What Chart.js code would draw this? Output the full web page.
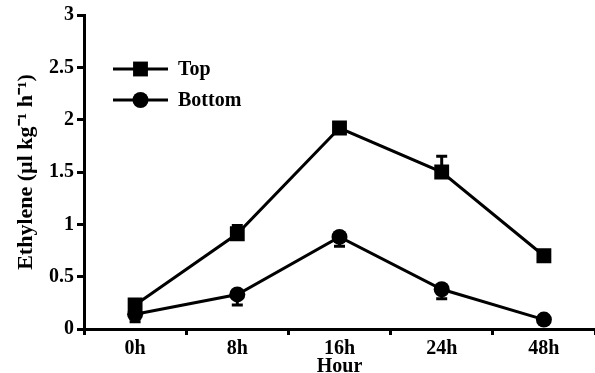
<!DOCTYPE html>
<html>
<head>
<meta charset="utf-8">
<script src="https://cdn.jsdelivr.net/npm/chart.js@4.4.1/dist/chart.umd.min.js"></script>
<style>
  html, body { margin: 0; padding: 0; background: #fff; }
</style>
</head>
<body>
<canvas id="chart" width="595" height="373"></canvas>
<script>
'use strict';

/* ── Data ─────────────────────────────────────────────────── */
const hours = ['0h', '8h', '16h', '24h', '48h'];
const topValues = [0.23, 0.91, 1.92, 1.50, 0.70];
const topErrors = [0.03, 0.08, 0.05, 0.15, 0.03];   // drawn upward
const bottomValues = [0.14, 0.33, 0.88, 0.38, 0.09];
const bottomErrors = [0.07, 0.10, 0.09, 0.09, 0.03]; // drawn downward
const yTicks = [0, 0.5, 1, 1.5, 2, 2.5, 3];

const SERIF = '"Liberation Serif", "Times New Roman", serif';
const LW = 3;

/* ── Error bars (one-sided, like the original figure) ─────── */
const errorBars = {
  id: 'errorBars',
  afterDatasetsDraw(chart) {
    const { ctx, scales: { x, y } } = chart;
    ctx.save();
    ctx.strokeStyle = '#000';
    ctx.lineWidth = LW;
    chart.data.datasets.forEach(ds => {
      if (!ds.errors) return;
      ds.data.forEach((v, j) => {
        const px = x.getPixelForValue(j);
        const y0 = y.getPixelForValue(v);
        const y1 = y.getPixelForValue(v + ds.errDir * ds.errors[j]);
        ctx.beginPath();
        ctx.moveTo(px, y0);
        ctx.lineTo(px, y1);
        ctx.moveTo(px - 5.5, y1);
        ctx.lineTo(px + 5.5, y1);
        ctx.stroke();
      });
    });
    ctx.restore();
  }
};

/* ── Legend drawn inside the plot (line + marker + label) ─── */
const inlineLegend = {
  id: 'inlineLegend',
  afterDraw(chart) {
    const { ctx, chartArea } = chart;
    const x0 = chartArea.left + 29, x1 = x0 + 55;
    ctx.save();
    chart.data.datasets.forEach((ds, i) => {
      const yy = chartArea.top + 54 + i * 31;
      ctx.strokeStyle = '#000';
      ctx.lineWidth = LW;
      ctx.beginPath();
      ctx.moveTo(x0, yy);
      ctx.lineTo(x1, yy);
      ctx.stroke();
      ctx.fillStyle = '#000';
      Chart.helpers.drawPoint(ctx, {
        pointStyle: ds.pointStyle, radius: ds.pointRadius, borderWidth: 0
      }, (x0 + x1) / 2, yy);
      ctx.font = 'bold 20px ' + SERIF;
      ctx.textBaseline = 'middle';
      ctx.textAlign = 'left';
      ctx.fillText(ds.label, x1 + 10, yy + 1);
    });
    ctx.restore();
  }
};

/* ── Chart ────────────────────────────────────────────────── */
new Chart(document.getElementById('chart'), {
  type: 'line',
  data: {
    labels: hours,
    datasets: [
      {
        label: 'Top',
        data: topValues,
        errors: topErrors,
        errDir: 1,
        borderColor: '#000',
        backgroundColor: '#000',
        borderWidth: LW,
        pointStyle: 'rect',
        pointRadius: 10.5,
        pointBorderWidth: 0,
        tension: 0
      },
      {
        label: 'Bottom',
        data: bottomValues,
        errors: bottomErrors,
        errDir: -1,
        borderColor: '#000',
        backgroundColor: '#000',
        borderWidth: LW,
        pointStyle: 'circle',
        pointRadius: 8,
        pointBorderWidth: 0,
        tension: 0
      }
    ]
  },
  options: {
    responsive: false,
    animation: false,
    devicePixelRatio: 1,
    layout: { autoPadding: false, padding: { top: 4, right: 0, left: 0, bottom: 0 } },
    plugins: {
      legend: { display: false },
      tooltip: { enabled: false }
    },
    scales: {
      x: {
        offset: true,
        grid: { offset: true, drawOnChartArea: false, color: '#000', lineWidth: LW, tickLength: 6 },
        border: { color: '#000', width: 3 },
        ticks: { color: '#000', padding: 2, maxRotation: 0, font: { family: SERIF, size: 20, weight: 'bold' } },
        title: {
          display: true, text: 'Hour', color: '#000', padding: { top: 0, bottom: -6 },
          font: { family: SERIF, size: 20, weight: 'bold' }
        },
        afterFit(scale) { scale.height = 44; }
      },
      y: {
        min: 0, max: 3,
        afterBuildTicks(scale) { scale.ticks = yTicks.map(v => ({ value: v })); },
        grid: { drawOnChartArea: false, color: '#000', lineWidth: LW, tickLength: 7 },
        border: { color: '#000', width: 3 },
        ticks: {
          color: '#000', padding: 3,
          font: { family: SERIF, size: 20, weight: 'bold' },
          callback: v => String(v)
        },
        title: {
          display: true, text: 'Ethylene (µl kg⁻¹ h⁻¹)', color: '#000', padding: { top: 13, bottom: 0 },
          font: { family: SERIF, size: 22, weight: 'bold' }
        },
        afterFit(scale) { scale.width = 84; }
      }
    }
  },
  plugins: [errorBars, inlineLegend]
});
</script>
</body>
</html>
